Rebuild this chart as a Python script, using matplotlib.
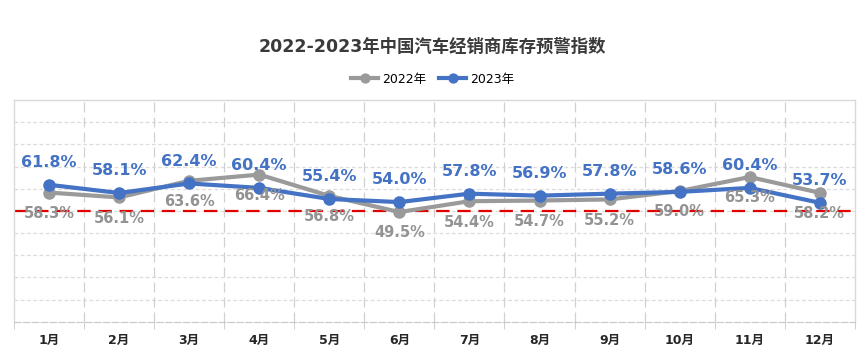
import matplotlib.pyplot as plt
import numpy as np

plt.rcParams['font.family'] = ['DejaVu Sans', 'Noto Sans CJK SC']

months = ['1月', '2月', '3月', '4月', '5月', '6月', '7月', '8月', '9月', '10月', '11月', '12月']
idx_2022 = [58.3, 56.1, 63.6, 66.4, 56.8, 49.5, 54.4, 54.7, 55.2, 59.0, 65.3, 58.2]
idx_2023 = [61.8, 58.1, 62.4, 60.4, 55.4, 54.0, 57.8, 56.9, 57.8, 58.6, 60.4, 53.7]
warn_line = 50

grey = '#9a9a9a'
blue = '#4472c4'

fig = plt.figure(figsize=(8.65, 3.6), dpi=100)
ax = fig.add_axes([0.0162, 0.106, 0.972, 0.616])

x = np.arange(len(months))
ax.set_xlim(-0.5, len(months) - 0.5)
ax.set_ylim(0, 100)

# grid: dashed horizontal lines every 10, dashed vertical band separators
for yv in np.arange(10, 100, 10):
    ax.axhline(yv, color='#dcdcdc', lw=0.9, ls=(0, (3, 2)), zorder=0)
for xv in np.arange(0.5, len(months) - 0.5, 1):
    ax.axvline(xv, color='#d0d0d0', lw=0.9, ls=(0, (8, 4)), zorder=0)

for s in ['top', 'left', 'right']:
    ax.spines[s].set_color('#d9d9d9')
    ax.spines[s].set_linewidth(1.0)
ax.spines['bottom'].set_color('#c8c8c8')
ax.spines['bottom'].set_linestyle((0, (6, 2)))

ax.set_yticks([])
ax.set_xticks(np.arange(-0.5, len(months), 1), minor=True)
ax.set_xticks(x)
ax.set_xticklabels(months, fontweight='bold', fontsize=9, color='#262626')
ax.tick_params(axis='x', which='major', length=0, pad=9)
ax.tick_params(axis='x', which='minor', length=5, color='#c8c8c8')

ax.axhline(warn_line, color='#e00000', lw=1.6, ls=(0, (6, 3.5)), zorder=2)

ax.plot(x, idx_2022, color=grey, lw=3, marker='o', ms=8, label='2022年', zorder=3)
ax.plot(x, idx_2023, color=blue, lw=3, marker='o', ms=8, label='2023年', zorder=4)

for xi, v in zip(x, idx_2022):
    ax.annotate(f'{v:.1f}%', (xi, v), xytext=(0, -15), textcoords='offset points',
                ha='center', va='center', fontsize=10.5, fontweight='bold',
                color='#939393', zorder=5)
for xi, v in zip(x, idx_2023):
    ax.annotate(f'{v:.1f}%', (xi, v), xytext=(0, 16), textcoords='offset points',
                ha='center', va='center', fontsize=11.5, fontweight='bold',
                color=blue, zorder=5)

fig.text(0.5, 0.87, '2022-2023年中国汽车经销商库存预警指数', ha='center', va='center',
         fontsize=12.5, fontweight='bold', color='#3a3a3a',
         family=['DejaVu Sans', 'Noto Sans CJK SC'])

fig.legend(loc='center', bbox_to_anchor=(0.5, 0.78), ncol=2, frameon=False,
           fontsize=9, handlelength=2.2, handletextpad=0.3, columnspacing=1.0,
           markerscale=0.8)

fig.savefig('out.png', dpi=100)
